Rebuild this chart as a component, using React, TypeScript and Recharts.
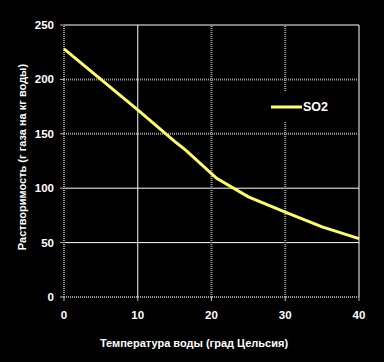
import React from 'react';
import { LineChart, Line, XAxis, YAxis, ReferenceLine } from 'recharts';

// SO2 solubility vs water temperature
const temperatures = [0, 5, 10, 15, 16.5, 20.7, 25, 30, 35, 40];
const solubility = [228, 200, 172, 143, 135, 109, 92, 78, 64.5, 53.6];
const xTicks = [0, 10, 20, 30, 40];
const yTicks = [0, 50, 100, 150, 200, 250];
const seriesName = 'SO2';

const data = temperatures.map((t, i) => ({ t, so2: solubility[i] }));

// which grid lines come out solid white and which grey dotted
const whiteY = [250, 100, 50];
const greyY = [200, 150, 0];
const whiteX = [10, 40];
const greyX = [0, 20, 30];

const FONT = '"Liberation Sans", Arial, sans-serif';
const YELLOW = '#ffff66';

const tickStyle = { fill: '#fff', fontSize: 11.5, fontWeight: 700, fontFamily: FONT };

const renderYLabel = () => (
    <text
        x={22}
        y={157}
        transform="rotate(-90 22 157)"
        textAnchor="middle"
        dominantBaseline="central"
        fill="#fff"
        fontSize={11}
        fontWeight={700}
        fontFamily={FONT}
    >
        Растворимость (г газа на кг воды)
    </text>
);

const renderXLabel = () => (
    <text
        x={194}
        y={343}
        textAnchor="middle"
        dominantBaseline="central"
        fill="#fff"
        fontSize={11}
        fontWeight={700}
        fontFamily={FONT}
    >
        Температура воды (град Цельсия)
    </text>
);

export default function App() {
    return (
        <div style={{ position: 'absolute', left: 0, top: 0, width: 384, height: 362, background: '#000' }}>
            <LineChart width={384} height={362} data={data} margin={{ top: 25, right: 25, left: 24, bottom: 35 }}>
                {whiteY.map(v => (
                    <ReferenceLine key={'wy' + v} y={v} stroke="#fff" strokeWidth={1} />
                ))}
                {whiteX.map(v => (
                    <ReferenceLine key={'wx' + v} x={v} stroke="#fff" strokeWidth={1} />
                ))}
                {greyY.map(v => (
                    <ReferenceLine key={'gy' + v} y={v} stroke="#9a9a9a" strokeWidth={2} strokeDasharray="1 1" />
                ))}
                {greyX.map(v => (
                    <ReferenceLine key={'gx' + v} x={v} stroke="#9a9a9a" strokeWidth={2} strokeDasharray="1 1" />
                ))}
                <XAxis
                    dataKey="t"
                    type="number"
                    domain={[0, 40]}
                    ticks={xTicks}
                    height={30}
                    axisLine={false}
                    tickLine={{ stroke: '#bbb' }}
                    tickSize={4}
                    tickMargin={10}
                    tick={tickStyle}
                    label={renderXLabel}
                />
                <YAxis
                    type="number"
                    domain={[0, 250]}
                    ticks={yTicks}
                    width={40}
                    axisLine={false}
                    tickLine={{ stroke: '#bbb' }}
                    tickSize={4}
                    tickMargin={6}
                    tick={tickStyle}
                    label={renderYLabel}
                />
                <Line
                    type="linear"
                    dataKey="so2"
                    name={seriesName}
                    stroke={YELLOW}
                    strokeWidth={3}
                    dot={false}
                    isAnimationActive={false}
                />
            </LineChart>
            {/* legend box sits over the plot, like the original */}
            <div
                style={{
                    position: 'absolute', left: 262, top: 92, width: 72, height: 30,
                    display: 'flex', alignItems: 'center', background: '#000',
                }}
            >
                <svg width={41} height={30}>
                    <line x1={9} y1={15} x2={40} y2={15} stroke={YELLOW} strokeWidth={3} />
                </svg>
                <span style={{ color: '#fff', fontSize: 12.5, fontWeight: 700, fontFamily: FONT }}>{seriesName}</span>
            </div>
        </div>
    );
}
